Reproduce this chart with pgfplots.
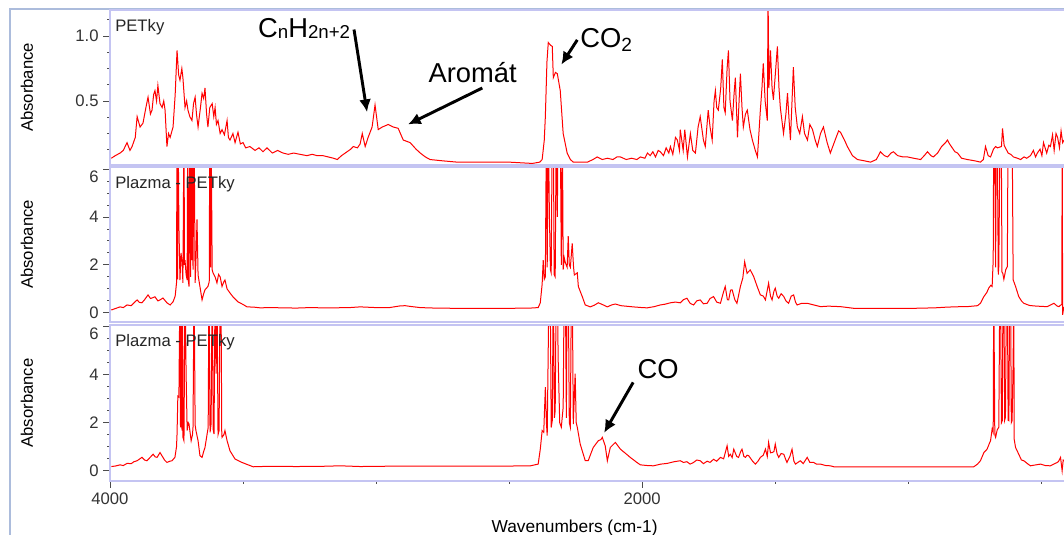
\documentclass[border=0pt]{standalone}
\usepackage{fontspec}
\setmainfont{Liberation Sans}
\usepackage{pgfplots}
\pgfplotsset{compat=1.18}
\usetikzlibrary{arrows.meta}

\definecolor{axcol}{RGB}{196,196,242}
\definecolor{framecol}{RGB}{172,188,220}
\definecolor{spec}{RGB}{255,0,0}

\pgfplotsset{
  panel/.style={
    scale only axis, width=715.5pt, anchor=south west,
    xmin=415, xmax=4000, x dir=reverse,
    clip mode=individual,
    axis line style={draw=none},
    tick align=outside, tick pos=left,
    major tick length=5pt, minor tick length=2pt,
    every tick/.style={line width=0.6pt, black!70},
    xtick=\empty,
    ticklabel style={font=\fontsize{12.5}{14}\selectfont, text=black!80},
    /pgf/number format/assume math mode=true,
    /pgf/number format/1000 sep={},
    ylabel={Absorbance},
    every axis y label/.style={at={(axis description cs:-0.087,0.5)}, anchor=center, rotate=90, font=\fontsize{12.5}{14}\selectfont},
  },
  % 0,2,4 as usual; the 6 at the top is set a little lower, as in the reference
  sixstyle/.style={
    ytick={0,2,4,6}, yticklabels={0,2,4,{}}, minor y tick num=3,
    extra y ticks={6}, extra y tick labels={6},
    extra y tick style={yticklabel style={yshift=-6pt}},
  },
}
\newcommand{\panelbox}{%
  \draw[axcol, line width=1.4pt] (axis description cs:1.01,1) -- (axis description cs:0,1) -- (axis description cs:0,0) -- (axis description cs:1.01,0);}
\newcommand{\paneltitle}[1]{%
  \node[anchor=north west, inner sep=0pt, font=\fontsize{12.5}{14}\selectfont, text=black!85] at (axis description cs:0,1) [xshift=3.75pt, yshift=-6.5pt] {#1};}
\tikzset{annot/.style={font=\fontsize{20.5}{24}\selectfont, inner sep=0pt, anchor=base west},
  blackarrow/.style={line width=2.2pt, -{Latex[length=9.5pt,width=9pt]}}}

\begin{document}
\begin{tikzpicture}[x=1pt,y=1pt]
\path[use as bounding box] (0,0) rectangle (798,401.25);
\draw[framecol, line width=1.5pt] (7.5,0) -- (7.5,394.5) -- (800,394.5);

% panel 1: PETky
\begin{axis}[panel, at={(82.5pt,277.5pt)}, height=116.25pt,
  ymin=0.008, ymax=1.2, ytick={0,0.5,1,1.5}, minor y tick num=3,
  yticklabel style={/pgf/number format/.cd, fixed, fixed zerofill, precision=1}]
\addplot[spec, line width=0.75pt] coordinates {
(3995,0.06) (3980,0.08) (3962,0.10) (3950,0.12) (3936,0.18) (3925,0.12) (3917,0.15) (3905,0.22) (3898,0.38) (3887,0.30)
(3876,0.33) (3865,0.45) (3857,0.53) (3848,0.40) (3842,0.43) (3836,0.55) (3831,0.58) (3825,0.50) (3820,0.62) (3812,0.48)
(3804,0.45) (3798,0.50) (3793,0.43) (3786,0.15) (3780,0.25) (3774,0.22) (3763,0.30) (3755,0.55) (3748,0.89) (3742,0.70)
(3737,0.66) (3730,0.75) (3726,0.68) (3718,0.45) (3712,0.50) (3707,0.43) (3700,0.38) (3692,0.35) (3686,0.48) (3680,0.53)
(3675,0.40) (3669,0.30) (3660,0.45) (3654,0.56) (3648,0.52) (3643,0.60) (3637,0.40) (3632,0.30) (3625,0.45) (3616,0.48)
(3610,0.38) (3605,0.45) (3600,0.32) (3594,0.35) (3586,0.25) (3579,0.28) (3570,0.24) (3560,0.35) (3555,0.22) (3549,0.20)
(3538,0.25) (3530,0.18) (3519,0.26) (3510,0.17) (3500,0.18) (3490,0.14) (3474,0.15) (3455,0.12) (3440,0.14) (3425,0.11)
(3410,0.14) (3390,0.10) (3370,0.12) (3350,0.10) (3330,0.09) (3310,0.10) (3286,0.09) (3260,0.08) (3240,0.09) (3222,0.08)
(3200,0.08) (3180,0.07) (3160,0.06) (3146,0.05) (3130,0.08) (3109,0.11) (3095,0.13) (3086,0.15) (3070,0.14) (3060,0.17)
(3052,0.25) (3041,0.15) (3030,0.22) (3015,0.30) (3004,0.47) (2992,0.28) (2977,0.30) (2965,0.31) (2955,0.32) (2935,0.30)
(2917,0.29) (2898,0.20) (2885,0.19) (2872,0.18) (2850,0.13) (2834,0.10) (2815,0.07) (2797,0.05) (2750,0.04) (2695,0.03)
(2630,0.03) (2571,0.03) (2500,0.03) (2413,0.02) (2385,0.03) (2376,0.05) (2368,0.20) (2364,0.38) (2358,0.80) (2353,0.95)
(2345,0.93) (2338,0.92) (2334,0.68) (2326,0.72) (2319,0.71) (2308,0.58) (2297,0.25) (2282,0.10) (2270,0.05) (2259,0.03)
(2230,0.03) (2206,0.03) (2185,0.05) (2169,0.07) (2150,0.05) (2131,0.06) (2110,0.05) (2095,0.07) (2082,0.07) (2060,0.05)
(2040,0.06) (2020,0.05) (2007,0.07) (1990,0.06) (1980,0.10) (1970,0.08) (1960,0.11) (1950,0.07) (1940,0.12) (1932,0.11)
(1920,0.08) (1910,0.14) (1900,0.10) (1894,0.15) (1885,0.09) (1875,0.22) (1868,0.20) (1860,0.12) (1857,0.28) (1846,0.12)
(1840,0.28) (1830,0.07) (1819,0.25) (1810,0.12) (1800,0.10) (1790,0.30) (1782,0.38) (1770,0.20) (1763,0.15) (1752,0.43)
(1745,0.30) (1737,0.20) (1730,0.50) (1725,0.58) (1720,0.45) (1714,0.43) (1705,0.60) (1699,0.82) (1693,0.45) (1688,0.41)
(1681,0.75) (1676,0.89) (1670,0.50) (1661,0.35) (1655,0.55) (1650,0.68) (1645,0.40) (1642,0.22) (1636,0.50) (1631,0.71)
(1625,0.45) (1620,0.30) (1612,0.40) (1605,0.43) (1595,0.28) (1586,0.20) (1575,0.12) (1567,0.07) (1560,0.30) (1556,0.43)
(1550,0.60) (1545,0.79) (1538,0.50) (1530,0.35) (1527,1.30) (1524,0.60) (1518,0.89) (1512,0.60) (1507,0.51) (1500,0.70)
(1492,0.92) (1486,0.60) (1481,0.45) (1475,0.35) (1469,0.25) (1460,0.40) (1454,0.56) (1448,0.35) (1443,0.20) (1437,0.50)
(1432,0.76) (1425,0.45) (1417,0.30) (1408,0.25) (1398,0.38) (1390,0.25) (1379,0.20) (1370,0.32) (1360,0.28) (1350,0.20)
(1342,0.15) (1330,0.25) (1319,0.30) (1305,0.18) (1293,0.10) (1275,0.20) (1262,0.27) (1255,0.26) (1240,0.20) (1229,0.15)
(1210,0.08) (1191,0.05) (1165,0.04) (1142,0.03) (1120,0.05) (1105,0.11) (1090,0.08) (1078,0.07) (1065,0.10) (1056,0.11)
(1040,0.08) (1020,0.07) (1003,0.07) (980,0.06) (954,0.05) (940,0.08) (928,0.11) (915,0.08) (906,0.07) (890,0.10)
(875,0.15) (860,0.18) (853,0.20) (845,0.17) (835,0.14) (825,0.11) (815,0.10) (800,0.06) (778,0.05) (750,0.04)
(729,0.03) (718,0.05) (710,0.15) (700,0.08) (691,0.07) (680,0.13) (672,0.15) (665,0.14) (650,0.15) (646,0.29)
(640,0.16) (635,0.14) (625,0.10) (615,0.09) (605,0.07) (590,0.06) (578,0.05) (565,0.07) (555,0.06) (541,0.08)
(530,0.12) (522,0.07) (515,0.10) (505,0.13) (498,0.08) (492,0.18) (480,0.10) (472,0.16) (466,0.15) (458,0.24)
(452,0.12) (445,0.25) (439,0.22) (432,0.14) (426,0.27) (420,0.18) (415,0.20)
};
\panelbox
\paneltitle{PETky}
\node[annot] at (axis cs:3444,0.99) {C{\fontsize{14}{16}\selectfont\raisebox{-1pt}{n}}H{\fontsize{14}{16}\selectfont\raisebox{-1pt}{2n+2}}};
\draw[blackarrow] (axis cs:3083,1.05) -- (axis cs:3034,0.415);
\node[annot] at (axis cs:2804,0.64) {Aromát};
\draw[blackarrow] (axis cs:2601,0.60) -- (axis cs:2880,0.32);
\node[annot] at (axis cs:2233,0.91) {CO\textsubscript{2}};
\draw[blackarrow] (axis cs:2244,0.97) -- (axis cs:2304,0.78);
\end{axis}

% panel 2: Plazma - PETky
\begin{axis}[panel, sixstyle, at={(82.5pt,159.75pt)}, height=116.25pt,
  ymin=-0.38, ymax=6.08]
\addplot[spec, line width=0.75pt] coordinates {
(3995,0.12) (3980,0.18) (3962,0.25) (3950,0.22) (3936,0.33) (3920,0.30) (3906,0.46) (3898,0.54) (3890,0.44) (3880,0.42)
(3870,0.55) (3857,0.75) (3848,0.60) (3842,0.62) (3831,0.67) (3820,0.50) (3812,0.54) (3801,0.62) (3786,0.42) (3774,0.33)
(3763,0.46) (3755,0.70) (3750,1.25) (3748,8) (3746,1.4) (3744,8) (3741,3.6) (3737,1.37) (3733,2.5) (3729,2.1)
(3726,1.25) (3722,8) (3720,2.0) (3718,2.2) (3714,1.6) (3710,1.37) (3708,8) (3705,1.3) (3703,1.1) (3700,8)
(3697,1.5) (3695,8) (3692,2.2) (3690,8) (3688,1.8) (3684,8) (3680,1.25) (3676,2.5) (3673,3.9) (3669,1.58)
(3662,1.1) (3654,0.54) (3648,0.80) (3643,0.96) (3632,1.1) (3627,1.3) (3625,8) (3622,1.9) (3620,8) (3616,1.8)
(3613,1.67) (3605,1.5) (3598,1.25) (3592,1.6) (3586,1.5) (3579,1.1) (3572,1.3) (3568,1.37) (3560,1.0) (3549,0.83)
(3538,0.67) (3519,0.46) (3500,0.35) (3485,0.25) (3460,0.24) (3436,0.21) (3400,0.22) (3350,0.21) (3300,0.20) (3250,0.22)
(3200,0.21) (3162,0.21) (3100,0.22) (3060,0.25) (3000,0.22) (2950,0.22) (2910,0.29) (2891,0.30) (2872,0.27) (2834,0.22)
(2780,0.20) (2700,0.19) (2600,0.19) (2500,0.19) (2420,0.20) (2391,0.22) (2383,0.42) (2376,1.2) (2372,2.2) (2368,1.4)
(2364,1.5) (2360,8) (2357,1.9) (2353,8) (2349,4.3) (2345,1.8) (2342,1.67) (2338,8) (2334,8) (2331,1.6)
(2327,1.5) (2323,8) (2319,4.0) (2316,8) (2312,8) (2308,8) (2304,2.0) (2300,8) (2297,1.8) (2293,2.3)
(2289,2.1) (2282,1.9) (2278,3.2) (2274,2.0) (2270,1.9) (2263,2.9) (2258,1.9) (2255,1.58) (2244,1.67) (2240,1.1)
(2225,0.67) (2214,0.33) (2195,0.25) (2180,0.32) (2165,0.42) (2150,0.35) (2131,0.25) (2115,0.33) (2101,0.37) (2080,0.30)
(2034,0.25) (2000,0.22) (1981,0.21) (1955,0.26) (1932,0.33) (1915,0.36) (1894,0.42) (1875,0.45) (1857,0.42) (1845,0.55)
(1832,0.61) (1820,0.40) (1807,0.33) (1795,0.50) (1782,0.54) (1770,0.38) (1756,0.40) (1745,0.60) (1732,0.68) (1720,0.45)
(1706,0.40) (1695,0.85) (1688,1.10) (1680,0.55) (1675,0.54) (1668,0.95) (1662,0.96) (1652,0.55) (1644,0.40) (1631,1.10)
(1622,1.45) (1615,2.13) (1606,1.65) (1594,1.79) (1581,1.51) (1568,1.10) (1556,0.75) (1545,0.70) (1537,0.54) (1525,1.24)
(1518,0.70) (1512,0.54) (1505,0.90) (1500,1.03) (1493,0.70) (1487,0.61) (1478,0.80) (1468,0.68) (1460,0.50) (1450,0.40)
(1440,0.70) (1431,0.75) (1424,0.45) (1418,0.33) (1400,0.40) (1380,0.40) (1355,0.33) (1330,0.26) (1300,0.28) (1255,0.26)
(1205,0.19) (1100,0.19) (980,0.19) (900,0.21) (854,0.24) (800,0.26) (779,0.26) (740,0.30) (729,0.40) (716,0.68)
(705,0.85) (698,1.03) (690,1.15) (685,1.10) (681,2.21) (679,8) (676,8) (672,1.9) (669,8) (666,8)
(662,1.6) (660,1.93) (655,8) (651,8) (648,1.7) (645,1.65) (641,1.4) (639,1.51) (634,1.8) (628,1.93)
(625,8) (620,8) (613,8) (610,8) (606,1.38) (597,1.10) (585,0.68) (575,0.50) (566,0.40) (545,0.31)
(528,0.29) (500,0.27) (478,0.26) (465,0.33) (453,0.40) (440,0.28) (434,0.26) (428,0.32) (423,0.35) (422,8)
(420,-0.08) (416,0.25)
};
\panelbox
\paneltitle{Plazma - PETky}
\end{axis}

% panel 3: Plazma - PETky
\begin{axis}[panel, sixstyle, at={(82.5pt,40.5pt)}, height=117pt,
  ymin=-0.42, ymax=6.05,
  xtick={2000,4000}, minor xtick={500,1000,1500,2500,3000,3500},
  xlabel={Wavenumbers (cm-1)},
  every axis x label/.style={at={(axis description cs:0.487,0)}, anchor=center, yshift=-35pt, font=\fontsize{13}{15}\selectfont}]
\addplot[spec, line width=0.75pt] coordinates {
(3995,0.18) (3980,0.20) (3962,0.25) (3950,0.22) (3936,0.31) (3920,0.30) (3910,0.38) (3898,0.42) (3880,0.56) (3870,0.45)
(3861,0.42) (3850,0.55) (3838,0.69) (3830,0.58) (3823,0.56) (3812,0.76) (3801,0.56) (3795,0.45) (3786,0.35) (3775,0.40)
(3767,0.42) (3756,0.56) (3750,1.0) (3748,1.53) (3745,3.1) (3741,3.06) (3737,8) (3735,1.8) (3733,8) (3731,2.0)
(3729,1.67) (3727,8) (3726,1.4) (3722,1.25) (3718,8) (3714,4.03) (3710,1.67) (3706,2.0) (3703,1.94) (3695,1.25)
(3690,1.5) (3688,1.81) (3684,8) (3680,1.9) (3677,1.67) (3669,1.25) (3662,0.63) (3654,0.56) (3648,0.80) (3643,0.97)
(3635,1.53) (3631,1.8) (3628,8) (3624,1.6) (3620,1.94) (3616,8) (3612,1.7) (3609,1.53) (3605,8) (3601,4.03)
(3598,8) (3594,1.5) (3590,1.67) (3586,8) (3583,8) (3580,1.6) (3579,1.39) (3572,1.5) (3568,1.67) (3560,1.25)
(3549,0.83) (3530,0.49) (3504,0.35) (3481,0.25) (3462,0.17) (3400,0.19) (3300,0.18) (3200,0.19) (3135,0.21) (3060,0.18)
(2900,0.20) (2700,0.20) (2500,0.20) (2420,0.21) (2391,0.28) (2383,0.9) (2376,1.67) (2370,1.6) (2364,3.47) (2360,2.0)
(2357,1.46) (2350,8) (2346,8) (2342,1.8) (2338,2.08) (2334,8) (2330,2.2) (2327,2.5) (2323,8) (2319,8)
(2316,4.72) (2310,2.0) (2304,1.81) (2297,2.64) (2293,8) (2289,8) (2285,2.2) (2282,8) (2278,8) (2274,2.0)
(2270,1.81) (2266,8) (2263,8) (2259,1.94) (2252,4.03) (2248,2.0) (2244,1.81) (2233,1.11) (2214,0.42) (2203,0.42)
(2190,0.80) (2184,0.97) (2165,1.25) (2155,1.30) (2150,1.39) (2139,1.04) (2131,0.42) (2120,0.97) (2101,1.18) (2082,0.90)
(2060,0.70) (2045,0.56) (2020,0.35) (2007,0.25) (1980,0.22) (1958,0.21) (1930,0.28) (1906,0.31) (1880,0.38) (1857,0.42)
(1845,0.35) (1832,0.38) (1820,0.28) (1807,0.35) (1795,0.45) (1782,0.42) (1770,0.30) (1756,0.40) (1745,0.35) (1732,0.48)
(1720,0.40) (1706,0.56) (1694,0.50) (1681,1.04) (1675,0.60) (1669,0.69) (1662,0.55) (1656,0.90) (1645,0.60) (1638,0.56)
(1630,0.80) (1625,0.90) (1618,0.60) (1612,0.56) (1606,0.65) (1600,0.63) (1585,0.40) (1575,0.28) (1565,0.40) (1556,0.56)
(1545,0.65) (1537,0.90) (1530,0.60) (1525,1.18) (1518,0.75) (1512,0.76) (1505,0.80) (1500,1.11) (1493,0.70) (1487,0.56)
(1478,0.72) (1468,0.69) (1460,0.45) (1456,0.35) (1445,0.60) (1437,0.90) (1430,0.40) (1424,0.28) (1415,0.35) (1406,0.42)
(1395,0.30) (1380,0.56) (1370,0.35) (1356,0.35) (1345,0.28) (1330,0.28) (1310,0.22) (1293,0.21) (1280,0.17) (1100,0.17)
(900,0.17) (754,0.17) (740,0.28) (729,0.42) (716,0.76) (704,0.90) (695,1.15) (691,1.25) (685,1.74) (681,1.6)
(679,8) (675,1.5) (672,1.39) (666,1.7) (660,1.81) (656,8) (654,8) (650,2.0) (647,2.08) (644,8)
(641,8) (638,2.1) (635,2.22) (631,8) (628,8) (625,2.1) (622,2.08) (619,8) (616,8) (613,2.0)
(610,2.08) (606,4.58) (604,8) (602,1.3) (597,0.97) (585,0.69) (575,0.45) (566,0.42) (550,0.28) (541,0.21)
(520,0.25) (503,0.28) (485,0.22) (466,0.21) (450,0.30) (440,0.35) (435,0.40) (428,0.56) (422,0.0) (418,0.45)
(414,0.42)
};
\panelbox
\paneltitle{Plazma - PETky}
\node[annot] at (axis cs:2018,3.83) {CO};
\draw[blackarrow] (axis cs:2034,3.67) -- (axis cs:2143,1.58);
\end{axis}
\end{tikzpicture}
\end{document}
